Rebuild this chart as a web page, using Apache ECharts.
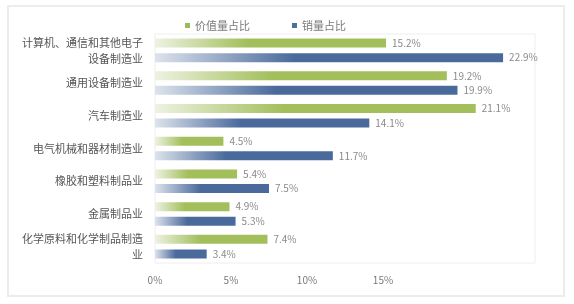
<!DOCTYPE html>
<html><head><meta charset="utf-8">
<script src="https://cdn.jsdelivr.net/npm/echarts@6/dist/echarts.min.js"></script>
<style>html,body{margin:0;padding:0;background:#fff}#c{width:574px;height:304px}</style>
</head><body><div id="c"></div>
<script>
const categories = ['计算机、通信和其他电子\n设备制造业','通用设备制造业','汽车制造业','电气机械和器材制造业','橡胶和塑料制品业','金属制品业','化学原料和化学制品制造\n业'];
const valueShare = [15.2, 19.2, 21.1, 4.5, 5.4, 4.9, 7.4];
const salesShare = [22.9, 19.9, 14.1, 11.7, 7.5, 5.3, 3.4];
const tickLabels = ['0%','5%','10%','15%'];
const seriesNames = ['价值量占比','销量占比'];

const chart = echarts.init(document.getElementById('c'));
function grad(a,b){return new echarts.graphic.LinearGradient(0,0,1,0,[{offset:0,color:a},{offset:0.4,color:b},{offset:1,color:b}]);}
const lbl = {show:true,position:'right',distance:6,fontSize:10,color:'#8a8a8a',fontFamily:'Noto Sans CJK SC',formatter:p=>p.value.toFixed(1)+'%'};
chart.setOption({
  backgroundColor:'#fff',
  animation:false,
  graphic:[{type:'rect',shape:{x:8,y:6,width:556,height:290},style:{fill:'none',stroke:'#ececec',lineWidth:2}}],
  legend:{top:15,left:180,itemWidth:5,itemHeight:5,itemGap:42,icon:'rect',
    textStyle:{fontSize:11,color:'#7a7a7a',fontFamily:'Noto Sans CJK SC'},
    data:[{name:seriesNames[0],itemStyle:{color:'#9bbb59'}},{name:seriesNames[1],itemStyle:{color:'#4f6f9f'}}]},
  grid:{left:155,right:39,top:34,bottom:41,show:true,borderColor:'#eeeeee',borderWidth:1},
  xAxis:{type:'value',min:0,max:25,interval:5,
    axisLine:{show:false},axisTick:{show:false},splitLine:{show:false},
    axisLabel:{margin:12,fontSize:10,color:'#7a7a7a',fontFamily:'Noto Sans CJK SC',
      formatter:v=>{const i=Math.round(v/5);return i<tickLabels.length?tickLabels[i]:'';}}},
  yAxis:{type:'category',inverse:true,data:categories,
    axisLine:{show:false},axisTick:{show:false},
    axisLabel:{margin:12,fontSize:11,color:'#555',lineHeight:16,align:'right',fontFamily:'Noto Sans CJK SC'}},
  series:[
    {name:seriesNames[0],type:'bar',data:valueShare,barWidth:9,barGap:'62%',
      itemStyle:{color:grad('#eef2e2','#a3bf5c')},label:lbl},
    {name:seriesNames[1],type:'bar',data:salesShare,barWidth:9,barGap:'62%',
      itemStyle:{color:grad('#dde3ec','#4a6a9c')},label:lbl}
  ]
});
</script></body></html>
